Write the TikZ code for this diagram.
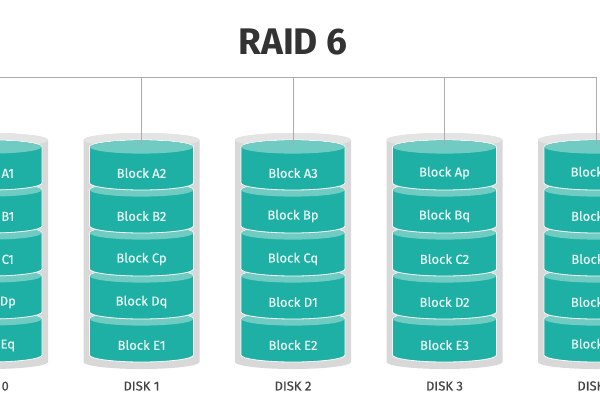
\documentclass[tikz,border=0pt]{standalone}
\usepackage{fontspec}
\setmainfont{Fira Sans}
\newfontfamily\medfont{Fira Sans}[FakeBold=0.35]
\definecolor{tealbody}{RGB}{30,176,164}
\definecolor{tealtop}{RGB}{112,204,194}
\definecolor{contgrey}{RGB}{216,216,216}
\definecolor{conttop}{RGB}{228,228,228}
\definecolor{wiregrey}{RGB}{172,172,172}
\definecolor{titlegrey}{RGB}{51,51,51}
\definecolor{labelgrey}{RGB}{68,68,68}
\definecolor{blocktxt}{RGB}{232,248,245}
\tikzset{
  titletext/.style={font=\fontsize{37}{40}\selectfont\bfseries, text=titlegrey, inner sep=0pt},
  blocktext/.style={font=\medfont\fontsize{13}{15}\selectfont, text=blocktxt, inner sep=0pt},
  disklabel/.style={font=\medfont\fontsize{13}{15}\selectfont, text=labelgrey, inner sep=0pt},
  wire/.style={draw=wiregrey, line width=1pt},
}
\begin{document}
\begin{tikzpicture}[x=1pt,y=-1pt]
\useasboundingbox (0,0) rectangle (600,400);
\clip (0,0) rectangle (600,400);
\fill[white] (0,0) rectangle (600,400);
\node[titletext] (title) at (293,42) {RAID 6};
\foreach \i/\cx/\la/\lb/\lc/\ld/\le in {
  0/-10/A1/B1/C1/Dp/Eq,
  1/141.5/A2/B2/Cp/Dq/E1,
  2/293/A3/Bp/Cq/D1/E2,
  3/444.5/Ap/Bq/C2/D2/E3,
  4/596/Aq/B3/C3/D3/Ep}{
  % container
  \fill[contgrey] (\cx-58,140) -- (\cx-58,362)
     arc[start angle=180,end angle=0,x radius=58,y radius=7]
     -- (\cx+58,140)
     arc[start angle=0,end angle=-180,x radius=58,y radius=7] -- cycle;
  \fill[conttop] (\cx,140) ellipse[x radius=58,y radius=7];
  % blocks, bottom first
  \foreach \k in {4,3,2,1,0}{
    \pgfmathsetmacro{\yt}{147+43*\k}
    \filldraw[fill=tealbody, draw=white, line width=0.8pt]
      (\cx-52,\yt+36)
      arc[start angle=180,end angle=0,x radius=52,y radius=7]
      -- (\cx+52,\yt)
      arc[start angle=0,end angle=-180,x radius=52,y radius=7] -- cycle;
    \fill[tealtop] (\cx,\yt) ellipse[x radius=51.6,y radius=6.6];
  }
  \node[blocktext] (d\i a) at (\cx,173) {Block \la};
  \node[blocktext] (d\i b) at (\cx,216) {Block \lb};
  \node[blocktext] (d\i c) at (\cx,259) {Block \lc};
  \node[blocktext] (d\i d) at (\cx,302) {Block \ld};
  \node[blocktext] (d\i e) at (\cx,345) {Block \le};
  \node[disklabel] (lab\i) at (\cx,386) {DISK \i};
  \coordinate (top\i) at (\cx,147);
}
\coordinate (busL) at (0,77);
\draw[wire] (busL) -| (top4);
\foreach \i in {0,1,2,3}{
  \draw[wire] (top\i) -- (top\i |- busL);
}
\end{tikzpicture}
\end{document}
